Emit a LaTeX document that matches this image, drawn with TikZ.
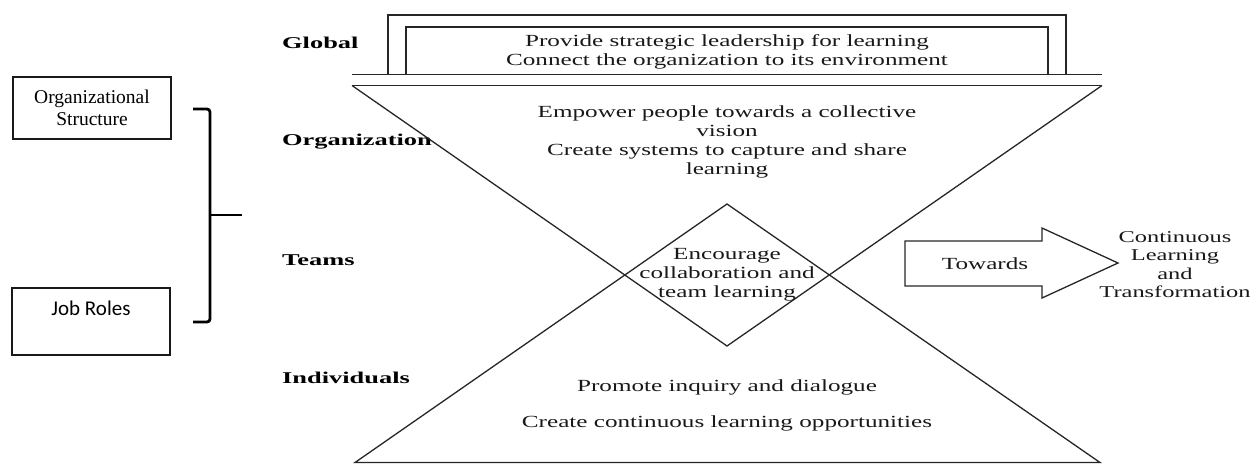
\documentclass[tikz,border=0pt]{standalone}
\usepackage{fontspec}
\setmainfont{Liberation Serif}
\newfontfamily\widefont[FakeStretch=1.48]{Liberation Serif}
\newfontfamily\levelfont[FakeStretch=1.6]{Liberation Serif}
\newfontfamily\boxsans{Carlito}

\begin{document}
\begin{tikzpicture}[x=1pt,y=-1pt,
  thinline/.style={draw=black!85, line width=1.3pt},
  body/.style={font=\widefont\fontsize{17}{19}\selectfont, align=center, inner sep=0pt, text=black!90},
  level/.style={font=\levelfont\bfseries\fontsize{16.5}{19}\selectfont, anchor=west, inner sep=0pt},
  sidebox/.style={draw=black!90, line width=1.5pt, minimum width=158pt, inner sep=0pt},
  brace/.style={draw=black, line width=2.8pt, rounded corners=3pt}
]
\useasboundingbox (0,0) rectangle (1260,464);

% level labels
\node[level] (lglobal) at (282,43) {Global};
\node[level] (lorg) at (282,142) {Organization};
\node[level] (lteams) at (282,260) {Teams};
\node[level] (lind) at (282,378) {Individuals};

% global frame: two nested open boxes standing on a double rule
\coordinate (r1l) at (352,74.5);
\coordinate (r1r) at (1102,74.5);
\coordinate (r2l) at (352,85.5);
\coordinate (r2r) at (1102,85.5);
\draw[thinline] (388,74.5) |- (1066,15) -- (1066,74.5);
\draw[thinline] (406,74.5) |- (1048,27) -- (1048,74.5);
\draw[thinline] (r1l) -- (r1r);
\draw[thinline] (r2l) -- (r2r);
\node[body] (tglobal) at (727,51.5) {Provide strategic leadership for learning\\Connect the organization to its environment};

% hourglass: two overlapping triangles
\coordinate (topapex) at (727,346);
\coordinate (botapex) at (727,204);
\coordinate (bl) at (355,462.5);
\coordinate (br) at (1100,462.5);
\draw[thinline, line join=miter] (r2l) -- (topapex) -- (r2r);
\draw[thinline, line join=miter] (bl) -- (botapex) -- (br) -- cycle;

\node[body] (torg) at (727,141.5) {Empower people towards a collective\\vision\\Create systems to capture and share\\learning};
\node[body] (tteams) at (727,275) {Encourage\\collaboration and\\team learning};
\node[body, font=\widefont\fontsize{17}{36}\selectfont] (tind) at (727,405) {Promote inquiry and dialogue\\Create continuous learning opportunities};

% arrow towards the outcome
\coordinate (a1) at (905,241);
\coordinate (a2) at (1042,241);
\coordinate (a3) at (1042,228);
\coordinate (a4) at (1118,263);
\coordinate (a5) at (1042,298);
\coordinate (a6) at (1042,286);
\coordinate (a7) at (905,286);
\draw[thinline, line join=miter] (a1) -- (a2) -- (a3) -- (a4) -- (a5) -- (a6) -- (a7) -- cycle;
\node[body] (ttow) at (985,264) {Towards};
\node[body, font=\widefont\fontsize{16.5}{18.5}\selectfont] (tgoal) at (1175,264.5) {Continuous\\Learning\\and\\Transformation};

% side boxes and the bracket that joins them
\node[sidebox, minimum height=62pt, font=\fontsize{19.5}{22}\selectfont, align=center] (bstruct) at (92,108) {Organizational\\Structure};
\node[sidebox, minimum height=67pt] (broles) at (91,321.5) {};
\node[font=\boxsans\fontsize{21}{24}\selectfont, inner sep=0pt] (troles) at (91,308) {Job Roles};

\coordinate (bt) at (193,109);
\coordinate (bb) at (193,322);
\coordinate (bm) at (210,215);
\coordinate (btip) at (242,215);
\draw[brace] (bt) -| (210,322) -- (bb);
\draw[draw=black, line width=2.8pt] (bm) -- (btip);
\end{tikzpicture}
\end{document}
